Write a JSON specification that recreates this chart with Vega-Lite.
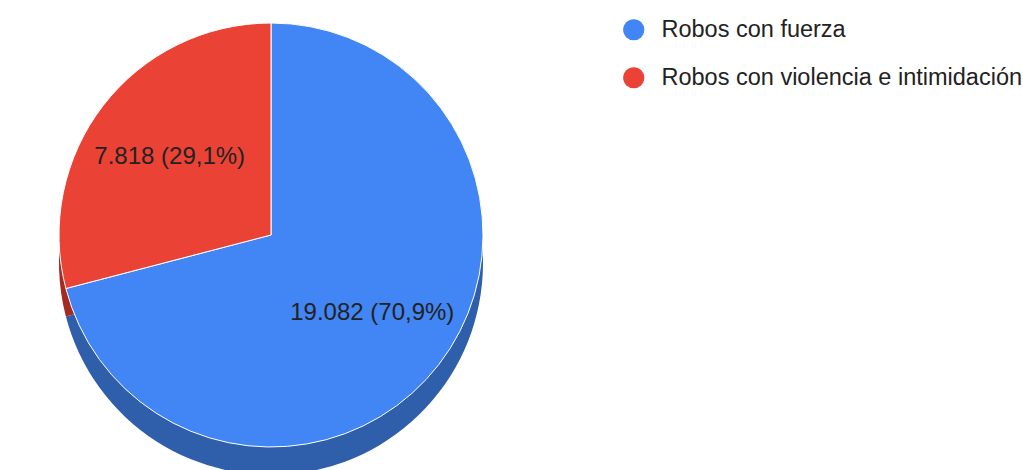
{
  "$schema": "https://vega.github.io/schema/vega-lite/v6.json",
  "width": 542,
  "height": 470,
  "padding": {"left": 0, "top": 0, "right": 481, "bottom": 0},
  "autosize": {"type": "none"},
  "background": "white",
  "config": {"view": {"stroke": null}, "font": "Liberation Sans"},
  "data": {
    "values": [
      {"tipo": "Robos con fuerza", "valor": 19082, "etiqueta": "19.082 (70,9%)"},
      {"tipo": "Robos con violencia e intimidación", "valor": 7818, "etiqueta": "7.818 (29,1%)"}
    ]
  },
  "layer": [
    {
      "mark": {"type": "arc", "radius": 212, "yOffset": 28},
      "encoding": {
        "theta": {"field": "valor", "type": "quantitative", "stack": true},
        "color": {
          "field": "tipo",
          "type": "nominal",
          "scale": {"domain": ["Robos con fuerza", "Robos con violencia e intimidación"], "range": ["#2F5EAB", "#A52A21"]},
          "legend": null
        }
      }
    },
    {
      "mark": {"type": "arc", "radius": 212, "stroke": "white", "strokeWidth": 1},
      "encoding": {
        "theta": {"field": "valor", "type": "quantitative", "stack": true},
        "color": {
          "field": "tipo",
          "type": "nominal",
          "scale": {"domain": ["Robos con fuerza", "Robos con violencia e intimidación"], "range": ["#4285F4", "#EA4335"]},
          "legend": {
            "title": null,
            "orient": "none",
            "legendX": 622,
            "legendY": 18,
            "symbolType": "circle",
            "symbolSize": 450,
            "symbolStrokeWidth": 0,
            "labelFontSize": 23.5,
            "labelFont": "Liberation Sans",
            "labelColor": "#222222",
            "labelOffset": 16,
            "rowPadding": 23,
            "labelLimit": 400
          }
        }
      }
    },
    {
      "mark": {"type": "text", "radius": 128, "fontSize": 24, "font": "Liberation Sans", "fill": "#222222"},
      "encoding": {
        "theta": {"field": "valor", "type": "quantitative", "stack": true},
        "text": {"field": "etiqueta", "type": "nominal"},
        "detail": {"field": "tipo", "type": "nominal"}
      }
    }
  ],
  "resolve": {"scale": {"color": "independent"}, "legend": {"color": "independent"}}
}
